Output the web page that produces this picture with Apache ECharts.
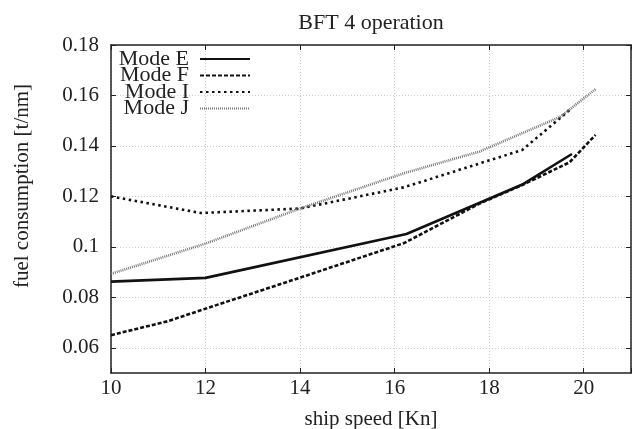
<!DOCTYPE html>
<html>
<head>
<meta charset="utf-8">
<script src="https://cdn.jsdelivr.net/npm/echarts@6/dist/echarts.min.js"></script>
<style>
  html, body { margin: 0; padding: 0; background: #fff; }
  #chart { width: 632px; height: 429px; }
</style>
</head>
<body>
<div id="chart"></div>
<script>
// values
const speedE = [10, 12, 16.25, 17.8, 18.7, 19.75];
const fuelE = [0.0862, 0.0877, 0.1051, 0.1175, 0.1247, 0.1368];
const speedF = [10, 11.2, 12, 14, 16.2, 17.8, 18.7, 19.7, 20.25];
const fuelF = [0.065, 0.0705, 0.0755, 0.0878, 0.1015, 0.1172, 0.1245, 0.1335, 0.1444];
const speedI = [10, 11.9, 14, 16.2, 18.7, 19.75];
const fuelI = [0.12, 0.1134, 0.1152, 0.1236, 0.1384, 0.155];
const speedJ = [10, 12, 14, 16.2, 17.8, 19.5, 20.25];
const fuelJ = [0.0893, 0.1013, 0.1152, 0.1292, 0.1378, 0.1515, 0.1625];
const yTicks = [0.06, 0.08, 0.1, 0.12, 0.14, 0.16, 0.18];

const font = 'Liberation Serif';
const pairs = (xs, ys) => xs.map((x, i) => [x, ys[i]]);

const chart = echarts.init(document.getElementById('chart'));

const axisLine = { show: true, lineStyle: { color: '#222', width: 1.5 } };
const splitLine = { show: true, lineStyle: { color: '#ccc', type: [1, 2], width: 1 } };
const tick = { show: true, inside: true, length: 5, lineStyle: { color: '#222' } };

const mkSeries = (name, xs, ys, style) => ({
  name: name,
  type: 'line',
  showSymbol: false,
  symbol: 'none',
  clip: true,
  data: pairs(xs, ys),
  lineStyle: style,
  itemStyle: { color: style.color },
});

chart.setOption({
  animation: false,
  backgroundColor: '#fff',
  title: {
    text: 'BFT 4 operation',
    left: 366,
    textAlign: 'center',
    top: 7,
    textStyle: { fontFamily: font, fontSize: 22, fontWeight: 'normal', color: '#222' },
  },
  grid: { left: 111, right: 1, top: 45, bottom: 56, outerBoundsMode: 'none', containLabel: false },
  legend: {
    orient: 'vertical',
    left: 106,
    top: 43,
    itemWidth: 50,
    itemHeight: 12,
    itemGap: -5.5,
    align: 'right',
    itemStyle: { opacity: 0 },
    formatter: (name) => '{a|' + name + '}',
    textStyle: {
      fontFamily: font,
      fontSize: 22,
      color: '#222',
      rich: { a: { width: 78, align: 'right', padding: [0, 6, 0, 0], fontFamily: font, fontSize: 22, lineHeight: 17, color: '#222' } },
    },
    data: ['Mode E', 'Mode F', 'Mode I', 'Mode J'],
  },
  xAxis: [
    {
      type: 'value',
      min: 10,
      max: 21,
      interval: 2,
      name: 'ship speed [Kn]',
      nameLocation: 'middle',
      nameGap: 36,
      nameTextStyle: { fontFamily: font, fontSize: 21, color: '#222' },
      axisLine: axisLine,
      axisTick: tick,
      axisLabel: {
        fontFamily: font, fontSize: 21, color: '#222', margin: 5,
        formatter: (v) => (v >= 21 ? '' : String(v)),
      },
      splitLine: splitLine,
    },
    {
      type: 'value',
      position: 'top',
      min: 10,
      max: 21,
      interval: 2,
      axisLine: axisLine,
      axisTick: tick,
      axisLabel: { show: false },
      splitLine: { show: false },
    },
  ],
  yAxis: [
    {
      type: 'value',
      min: 0.05,
      max: 0.18,
      name: 'fuel consumption [t/nm]',
      nameLocation: 'middle',
      nameGap: 78,
      nameTextStyle: { fontFamily: font, fontSize: 21, color: '#222', padding: [0, 0, 0, 46] },
      axisLine: axisLine,
      axisTick: Object.assign({ customValues: yTicks }, tick),
      axisLabel: {
        fontFamily: font, fontSize: 21, color: '#222', margin: 12,
        customValues: yTicks,
        formatter: (v) => String(+v.toFixed(2)),
      },
      splitLine: splitLine,
    },
    {
      type: 'value',
      position: 'right',
      min: 0.05,
      max: 0.18,
      axisLine: axisLine,
      axisTick: Object.assign({ customValues: yTicks }, tick),
      axisLabel: { show: false },
      splitLine: { show: false },
    },
  ],
  series: [
    mkSeries('Mode E', speedE, fuelE, { color: '#111', width: 2.6, type: 'solid' }),
    mkSeries('Mode F', speedF, fuelF, { color: '#111', width: 2.6, type: [4, 2] }),
    mkSeries('Mode I', speedI, fuelI, { color: '#111', width: 2.6, type: [2.5, 3.5] }),
    mkSeries('Mode J', speedJ, fuelJ, { color: '#777', width: 2.6, type: [1, 1] }),
  ],
});
</script>
</body>
</html>
